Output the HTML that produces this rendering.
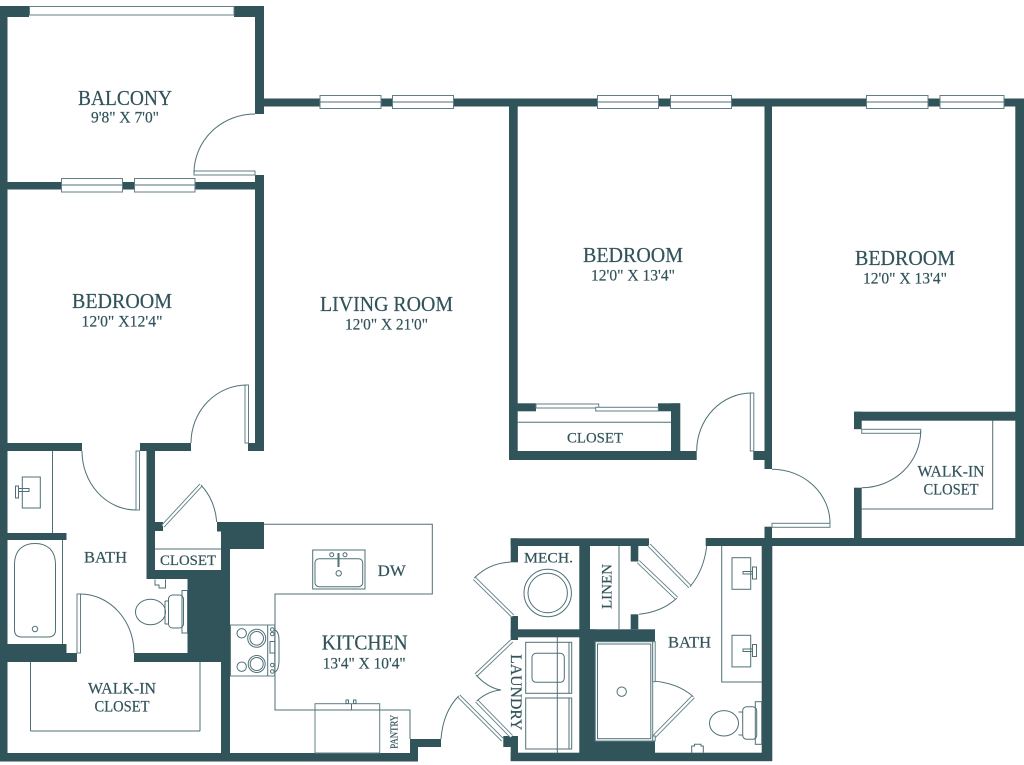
<!DOCTYPE html>
<html>
<head>
<meta charset="utf-8">
<style>
html,body{margin:0;padding:0;background:#fff}
svg{display:block}
.w{fill:#31535a;stroke:none}
.l{fill:none;stroke:#4f7076;stroke-width:1}
.n{fill:#fff;stroke:#5f7f85;stroke-width:1}
.a{fill:none;stroke:#4f7076;stroke-width:1}
.d1{stroke:#5f7f85;stroke-width:4;fill:none}
.d2{stroke:#fff;stroke-width:2.2;fill:none}
text{font-family:"Liberation Serif",serif;fill:#31535a;text-anchor:middle;stroke:#31535a;stroke-width:.2}
</style>
</head>
<body>
<svg width="1024" height="765" viewBox="0 0 1024 765" xmlns="http://www.w3.org/2000/svg">
<rect width="1024" height="765" fill="#fff"/>
<g>
<!-- walls -->
<rect class="w" x="0" y="6" width="7.5" height="755.500"/>
<rect class="w" x="0" y="6" width="29" height="11"/>
<rect class="w" x="234" y="6" width="30" height="11"/>
<rect class="w" x="255" y="6" width="9" height="108"/>
<rect class="w" x="264" y="98.500" width="760" height="8"/>
<rect class="w" x="0" y="182" width="264" height="7.500"/>
<rect class="w" x="255" y="175" width="9" height="276"/>
<rect class="w" x="248" y="443" width="16" height="8"/>
<rect class="w" x="140" y="443" width="51" height="8"/>
<rect class="w" x="146.500" y="443" width="8.500" height="136"/>
<rect class="w" x="0" y="443" width="82" height="8"/>
<rect class="w" x="0" y="533" width="66.500" height="7"/>
<rect class="w" x="0" y="644" width="66.500" height="18"/>
<rect class="w" x="0" y="653" width="77" height="9"/>
<rect class="w" x="134" y="653" width="96" height="9"/>
<rect class="w" x="146.500" y="570" width="41" height="9"/>
<rect class="w" x="187.500" y="570" width="42.500" height="92"/>
<rect class="w" x="221" y="522" width="9" height="239.500"/>
<rect class="w" x="217" y="522" width="47" height="9.500"/>
<rect class="w" x="221" y="522" width="43" height="27"/>
<rect class="w" x="155" y="522" width="8" height="9"/>
<rect class="w" x="0" y="753" width="418" height="8.500"/>
<rect class="w" x="410" y="739" width="8" height="22"/>
<rect class="w" x="410" y="739" width="31" height="8"/>
<!-- bedroom closet -->
<rect class="w" x="509" y="100" width="8.700" height="360"/>
<rect class="w" x="509" y="451" width="187.700" height="9"/>
<rect class="w" x="671" y="403.300" width="9.300" height="50"/>
<rect class="w" x="658" y="403.300" width="22" height="8"/>
<rect class="w" x="517" y="403.300" width="19" height="8"/>
<!-- bedroom 3 -->
<rect class="w" x="764.500" y="100" width="7.500" height="369"/>
<rect class="w" x="753.300" y="451" width="18.700" height="9"/>
<rect class="w" x="764.500" y="526.700" width="7.500" height="20"/>
<rect class="w" x="1015.300" y="100" width="8.700" height="446"/>
<rect class="w" x="854" y="411.700" width="165" height="9"/>
<rect class="w" x="854" y="411.700" width="7.700" height="17.500"/>
<rect class="w" x="854" y="487.700" width="7.700" height="58"/>
<rect class="w" x="705.700" y="538" width="318.300" height="8"/>
<!-- core -->
<rect class="w" x="510.700" y="538.300" width="138.300" height="7.700"/>
<rect class="w" x="510.700" y="538.300" width="7.300" height="24"/>
<rect class="w" x="510.700" y="616" width="7.300" height="24"/>
<rect class="w" x="510.700" y="629.300" width="144.300" height="8"/>
<rect class="w" x="510.700" y="736" width="7.300" height="25"/>
<rect class="w" x="503.300" y="736" width="14.700" height="11"/>
<rect class="w" x="510.700" y="752.700" width="261.300" height="8.500"/>
<rect class="w" x="579.300" y="546" width="10.700" height="207"/>
<rect class="w" x="590" y="629.300" width="5.500" height="124"/>
<rect class="w" x="630.700" y="546" width="7.600" height="15.500"/>
<rect class="w" x="630.700" y="614.300" width="7.600" height="15"/>
<rect class="w" x="590" y="637" width="65" height="5"/>
<rect class="w" x="590" y="741" width="65" height="12"/>
<rect class="w" x="761.700" y="538" width="10.600" height="223"/>
</g>

<!-- windows -->
<rect class="n" x="29.500" y="6.500" width="204.500" height="8.500"/>
<rect class="n" x="61.500" y="178.500" width="61" height="13.500"/><line class="l" x1="61.500" y1="185" x2="122.500" y2="185"/>
<rect class="n" x="134.500" y="178.500" width="60.500" height="13.500"/><line class="l" x1="134.500" y1="185" x2="195" y2="185"/>
<rect class="n" x="320" y="95.500" width="61" height="13"/><line class="l" x1="320" y1="102" x2="381" y2="102"/>
<rect class="n" x="392.500" y="95.500" width="61" height="13"/><line class="l" x1="392.500" y1="102" x2="453.500" y2="102"/>
<rect class="n" x="597.500" y="95.500" width="61" height="13"/><line class="l" x1="597.500" y1="102" x2="658.500" y2="102"/>
<rect class="n" x="670.500" y="95.500" width="61" height="13"/><line class="l" x1="670.500" y1="102" x2="731.500" y2="102"/>
<rect class="n" x="866.500" y="95.500" width="61.500" height="13"/><line class="l" x1="866.500" y1="102" x2="928" y2="102"/>
<rect class="n" x="940" y="95.500" width="64" height="13"/><line class="l" x1="940" y1="102" x2="1004" y2="102"/>

<!-- swing doors: leaves + arcs -->
<rect class="n" x="194" y="171" width="61" height="4"/>
<path class="a" d="M255 114 A61 59 0 0 0 194 173"/>
<rect class="n" x="245" y="385" width="3.500" height="58"/>
<path class="a" d="M247 385 A56 58 0 0 0 191 443"/>
<rect class="n" x="136" y="451" width="3.500" height="59"/>
<path class="a" d="M82 451 A54 59 0 0 0 136 510"/>
<rect class="n" x="77" y="594" width="3.500" height="59"/>
<path class="a" d="M80 594 A54 59 0 0 1 134 653"/>
<line class="d1" x1="163" y1="526" x2="201" y2="485"/><line class="d2" x1="163" y1="526" x2="201" y2="485"/>
<path class="a" d="M201 485 Q215 500 216.700 522"/>
<rect class="n" x="750.300" y="393" width="3.500" height="58"/>
<path class="a" d="M752 393 A55 58 0 0 0 696.700 451"/>
<rect class="n" x="772" y="523.300" width="58" height="4"/>
<path class="a" d="M772 469.300 A58 54 0 0 1 830 523.300"/>
<rect class="n" x="861.700" y="429.300" width="59" height="4"/>
<path class="a" d="M920.700 431 A59 57 0 0 1 861.700 487.700"/>
<!-- sliding closet -->
<rect class="n" x="536" y="404" width="62.700" height="4"/>
<rect class="n" x="595.700" y="407.300" width="62.600" height="3.700"/>
<line class="l" x1="517" y1="422.300" x2="671" y2="422.300"/>
<!-- kitchen door -->
<line class="d1" x1="458.700" y1="696" x2="502.700" y2="740"/><line class="d2" x1="458.700" y1="696" x2="502.700" y2="740"/>
<path class="a" d="M441 739 Q443 712 458.700 696"/>
<!-- mech door -->
<line class="d1" x1="474.300" y1="578.300" x2="512.700" y2="616"/><line class="d2" x1="474.300" y1="578.300" x2="512.700" y2="616"/>
<path class="a" d="M510.700 562 Q489 563 474.300 578"/>
<!-- laundry bifold -->
<line class="d1" x1="511.700" y1="641" x2="476" y2="675"/><line class="d2" x1="511.700" y1="641" x2="476" y2="675"/>
<line class="d1" x1="476.700" y1="701" x2="511.500" y2="736.500"/><line class="d2" x1="476.700" y1="701" x2="511.500" y2="736.500"/>
<path class="a" d="M476 675 Q488 688 501 690 Q488 691 476.700 701"/>
<!-- bath doors -->
<line class="d1" x1="649" y1="545" x2="690" y2="586.700"/><line class="d2" x1="649" y1="545" x2="690" y2="586.700"/>
<path class="a" d="M706.700 546 Q704 570 690 586.700"/>
<line class="d1" x1="638.300" y1="561.700" x2="676.700" y2="598.300"/><line class="d2" x1="638.300" y1="561.700" x2="676.700" y2="598.300"/>
<path class="a" d="M676.700 598.300 Q662 612 639 614.300"/>
<line class="d1" x1="654" y1="736.700" x2="693.300" y2="696.700"/><line class="d2" x1="654" y1="736.700" x2="693.300" y2="696.700"/>
<path class="a" d="M653 681 Q678 683 693.300 696.700"/>

<!-- bath 1 fixtures -->
<line class="l" x1="52.500" y1="451" x2="52.500" y2="533"/>
<rect class="l" x="22.300" y="477" width="18" height="31"/>
<path class="l" d="M19 488.500 H29 V491.500 H19 M15.500 486 h3 v12 h-3 z" fill="#fff"/>
<line class="l" x1="62.500" y1="540" x2="62.500" y2="644"/>
<path class="l" d="M14.500 565 C14.500 549 24 543.500 35 543.500 C46 543.500 55.500 549 55.500 565 V630 Q55.500 637 48 637 H22 Q14.500 637 14.500 630 Z"/>
<circle class="l" cx="35" cy="629" r="2.700"/>
<line class="l" x1="30.500" y1="662" x2="30.500" y2="731"/>
<line class="l" x1="30.500" y1="731" x2="200" y2="731"/>
<line class="l" x1="200" y1="662" x2="200" y2="731"/>
<line class="l" x1="155" y1="549" x2="221" y2="549"/>
<ellipse class="l" cx="150.500" cy="612" rx="15" ry="12.700"/>
<path class="l" d="M165 601 V624 M165 601 H168 M165 624 H168"/>
<rect class="l" x="168.500" y="595" width="15" height="33" rx="4"/>
<rect class="l" x="182" y="590.500" width="5.500" height="42.500"/>
<path class="l" d="M155 579.500 V585 H159 V588 H165.500 V579.500"/>

<!-- kitchen fixtures -->
<path class="l" d="M264 524.300 H432.300 V594 H275 V710 H410 V739"/>
<rect class="l" x="312.700" y="550" width="52.300" height="39"/>
<rect class="l" x="315" y="558.700" width="47.700" height="28" rx="4"/>
<line class="l" x1="338" y1="553" x2="338" y2="567"/>
<line class="l" x1="339" y1="553" x2="339" y2="567"/>
<circle class="l" cx="331.700" cy="554.700" r="2"/>
<circle class="l" cx="345" cy="554.700" r="2"/>
<circle class="l" cx="338.700" cy="573.300" r="2.700"/>
<rect class="n" x="230.500" y="625" width="44.200" height="51" stroke-width="1"/>
<line class="l" x1="267.700" y1="625" x2="267.700" y2="676"/>
<circle class="l" cx="256.700" cy="638.300" r="9"/><circle class="l" cx="256.700" cy="638.300" r="6.800"/>
<circle class="l" cx="241.700" cy="633.300" r="4.700"/>
<circle class="l" cx="256.700" cy="664" r="8.500"/><circle class="l" cx="256.700" cy="664" r="6.500"/>
<circle class="l" cx="241.700" cy="666.700" r="4.700"/>
<circle class="l" cx="272.300" cy="629.500" r="1.800"/><circle class="l" cx="272.300" cy="634" r="1.800"/>
<circle class="l" cx="272.300" cy="665" r="1.800"/><circle class="l" cx="272.300" cy="671.500" r="1.800"/>
<rect class="l" x="270" y="641.500" width="5" height="11.500"/>
<path class="l" d="M275 630 Q279 632 279 640 V660 Q279 670 275 672"/>
<rect class="n" x="315" y="703.700" width="64.700" height="49.300"/>
<line class="l" x1="315" y1="710" x2="379.700" y2="710"/>
<line class="l" x1="351.500" y1="704" x2="351.500" y2="710"/>
<rect class="l" x="346" y="700" width="2.500" height="3.500"/><rect class="l" x="353.500" y="700" width="2.500" height="3.500"/>

<!-- mech / linen / laundry -->
<circle class="l" cx="547.700" cy="593" r="23.700"/>
<circle class="l" cx="547.700" cy="593" r="19.700"/>
<line class="l" x1="619" y1="546" x2="619" y2="629.300"/>
<rect class="l" x="525.700" y="642.300" width="46" height="51"/>
<rect class="l" x="525.700" y="698" width="46" height="51"/>
<rect class="l" x="532" y="653.300" width="32.300" height="29" rx="4"/>
<line class="l" x1="557.300" y1="637" x2="557.300" y2="753"/>
<line class="l" x1="569" y1="642.300" x2="569" y2="693.300"/>
<line class="l" x1="569" y1="698" x2="569" y2="749"/>

<!-- shower -->
<rect class="n" x="595.300" y="641.700" width="57.400" height="99.300"/>
<rect class="l" x="597.500" y="644" width="53.300" height="94.700"/>
<rect class="n" x="652.700" y="641.700" width="2.500" height="40"/>
<rect class="n" x="652.700" y="736" width="2.500" height="5"/>
<circle class="l" cx="621.700" cy="691.700" r="4.700"/>

<!-- bath 2 fixtures -->
<path class="l" d="M721.700 546 V682 H761.700"/>
<rect class="l" x="732" y="557.700" width="18.700" height="31.600"/>
<rect class="l" x="732" y="635.300" width="18.700" height="31.600"/>
<path class="l" d="M743 571.500 H752.500 V574 H743 Z M752.500 567 h4 v12 h-4 z" fill="#fff"/>
<path class="l" d="M743 649 H752.500 V651.500 H743 Z M752.500 644.500 h4 v12 h-4 z" fill="#fff"/>
<ellipse class="l" cx="724" cy="723.300" rx="14.500" ry="12.700"/>
<path class="l" d="M738.500 712 H742.700 M738.500 735 H742.700"/>
<rect class="l" x="742.700" y="706.700" width="14" height="32.600" rx="4"/>
<rect class="l" x="755.300" y="701.700" width="6.400" height="42.600"/>
<path class="l" d="M691.700 752.700 V746 H694.500 V744.300 H701 V746 H703.300 V752.700"/>

<!-- walk-in shelf -->
<path class="l" d="M992.700 420.500 V509 H861.700"/>

<!-- labels -->
<text x="125" y="105" font-size="21" textLength="94" lengthAdjust="spacingAndGlyphs">BALCONY</text>
<text x="125" y="122.500" font-size="16" textLength="68" lengthAdjust="spacingAndGlyphs">9'8" X 7'0"</text>
<text x="122" y="308" font-size="21" textLength="100" lengthAdjust="spacingAndGlyphs">BEDROOM</text>
<text x="122" y="326.500" font-size="16" textLength="81" lengthAdjust="spacingAndGlyphs">12'0" X12'4"</text>
<text x="386.500" y="311" font-size="21" textLength="133" lengthAdjust="spacingAndGlyphs">LIVING ROOM</text>
<text x="386.500" y="329.500" font-size="16" textLength="83" lengthAdjust="spacingAndGlyphs">12'0" X 21'0"</text>
<text x="633" y="262" font-size="21" textLength="100" lengthAdjust="spacingAndGlyphs">BEDROOM</text>
<text x="633" y="280.500" font-size="16" textLength="84" lengthAdjust="spacingAndGlyphs">12'0" X 13'4"</text>
<text x="905" y="265" font-size="21" textLength="100" lengthAdjust="spacingAndGlyphs">BEDROOM</text>
<text x="905" y="283.500" font-size="16" textLength="84" lengthAdjust="spacingAndGlyphs">12'0" X 13'4"</text>
<text x="105.500" y="562.500" font-size="16" textLength="43" lengthAdjust="spacingAndGlyphs">BATH</text>
<text x="188" y="565" font-size="15" textLength="56" lengthAdjust="spacingAndGlyphs">CLOSET</text>
<text x="122" y="693.500" font-size="16" textLength="68" lengthAdjust="spacingAndGlyphs">WALK-IN</text>
<text x="122" y="711.500" font-size="16" textLength="55" lengthAdjust="spacingAndGlyphs">CLOSET</text>
<text x="391.700" y="576" font-size="16" textLength="28" lengthAdjust="spacingAndGlyphs">DW</text>
<text x="364.700" y="649.500" font-size="21" textLength="86" lengthAdjust="spacingAndGlyphs">KITCHEN</text>
<text x="364.200" y="668.500" font-size="16" textLength="83" lengthAdjust="spacingAndGlyphs">13'4" X 10'4"</text>
<text x="595" y="442.500" font-size="15" textLength="56" lengthAdjust="spacingAndGlyphs">CLOSET</text>
<text x="951" y="476.500" font-size="16" textLength="67" lengthAdjust="spacingAndGlyphs">WALK-IN</text>
<text x="951" y="494.500" font-size="16" textLength="55" lengthAdjust="spacingAndGlyphs">CLOSET</text>
<text x="548.500" y="562.500" font-size="15" textLength="49" lengthAdjust="spacingAndGlyphs">MECH.</text>
<text x="689.500" y="647.500" font-size="16" textLength="43" lengthAdjust="spacingAndGlyphs">BATH</text>
<text transform="translate(611.500 586.500) rotate(-90)" font-size="15" textLength="45" lengthAdjust="spacingAndGlyphs">LINEN</text>
<text transform="translate(511 692.300) rotate(90)" font-size="16" textLength="76" lengthAdjust="spacingAndGlyphs">LAUNDRY</text>
<text transform="translate(397.500 731.700) rotate(-90)" font-size="10" textLength="34" lengthAdjust="spacingAndGlyphs">PANTRY</text>
</svg>
</body>
</html>
